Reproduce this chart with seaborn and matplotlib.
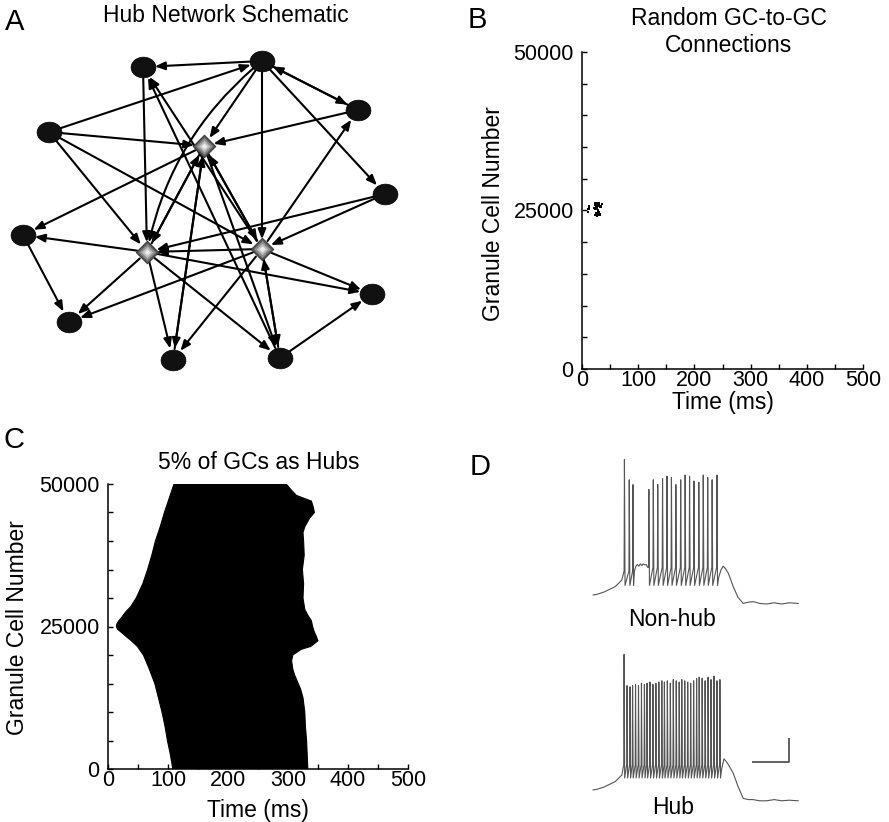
import numpy as np
import pandas as pd
import matplotlib
matplotlib.use("Agg")
import matplotlib.pyplot as plt
from matplotlib.path import Path
from matplotlib.transforms import Affine2D
from matplotlib.ticker import MultipleLocator
import seaborn as sns

sns.set_style("ticks")
plt.rcParams["font.family"] = ["Liberation Sans", "DejaVu Sans"]
plt.rcParams.update({"text.color": "black", "axes.labelcolor": "black",
                     "xtick.color": "black", "ytick.color": "black"})

W, H = 889, 822

# ---------------- Panel A: hub network schematic ----------------
cell_x = [143, 262, 358, 49, 385, 23, 372, 69, 173, 280]
cell_y = [67, 61, 110, 132, 194, 235, 294, 322, 360, 358]
hub_x = [204, 147, 262]
hub_y = [146, 252, 249]
# node ids: 0-9 ordinary granule cells, 10-12 hubs
edge_from = [1, 3, 1, 2, 1, 1, 1, 1, 0, 12, 9, 3, 3, 3, 2, 12, 4, 4,
             10, 11, 5, 11, 12, 9, 10, 12, 11, 11, 12, 10, 8, 9,
             12, 11, 10, 10, 12, 11, 12]
edge_to = [0, 1, 2, 1, 4, 10, 11, 12, 11, 0, 0, 10, 11, 12, 10, 2, 11, 12,
           5, 5, 7, 6, 6, 6, 8, 8, 8, 9, 9, 9, 10, 12,
           11, 10, 11, 12, 10, 7, 7]

# ---------------- Panel B: random GC-to-GC connections ----------------
rand_t = [11, 11.5, 12, 22, 23, 24, 25, 26, 27, 28, 29, 30, 24, 26, 28,
          23, 25, 27, 29, 31, 36, 33]
rand_gc = [24800, 25200, 25600, 25400, 25900, 26200, 25700, 26100, 25500,
           25900, 26200, 25800, 25200, 25300, 25100, 24300, 24600, 24200,
           24700, 24400, 26000, 25600]

# ---------------- Panel C: 5% hubs, edges of the activity envelope ----------------
onset_gc = [50000, 47500, 45000, 42500, 40000, 37500, 35000, 32500, 30000,
            28500, 27500, 26500, 26000, 25500, 25000, 24500, 24000, 23000,
            22500, 21500, 20000, 17500, 15000, 12500, 10000, 7500, 5000,
            2500, 0]
onset_t = [110, 102, 94, 87, 79, 73, 66, 58, 47, 38, 29, 22, 18, 15, 14,
           16, 22, 33, 39, 49, 59, 69, 78, 84, 90, 95, 99, 104, 108]
offset_gc = [0, 2500, 5000, 7500, 10000, 12500, 14000, 15000, 16500, 17500,
             19000, 20000, 21000, 21500, 22500, 23300, 24000, 25000, 26000,
             27000, 28000, 30000, 32500, 35000, 37500, 40000, 41500, 42500,
             44000, 45000, 46000, 47000, 48000, 49000, 50000]
offset_t = [333, 332, 331, 329, 328, 325, 321, 317, 311, 308, 306, 308,
            322, 338, 350, 347, 344, 341, 339, 333, 328, 325, 326, 324, 327,
            326, 325, 328, 336, 344, 342, 339, 314, 305, 297]

# ---------------- Panel D: membrane potential traces (ms, mV) ----------------
pre_t = [0, 10, 20, 30, 40, 50, 60, 70, 78]
pre_v = [-70, -69.5, -68.5, -67.5, -66, -64.5, -63, -60, -57.5]

nonhub_spk1_t = [85, 98, 108]
nonhub_spk1_v = [43, 26, 22]
nonhub_plateau_t = [112, 116, 120, 124, 128, 132, 136, 140, 144, 148]
nonhub_plateau_v = [-50, -46, -44.5, -46, -44, -45.5, -44, -45, -44.5, -47]
nonhub_spk2_t = [151, 163, 175, 188, 200, 212, 224, 237, 249, 261, 273,
                 286, 298, 310, 322, 335]
nonhub_spk2_v = [18, 26, 22, 27, 29, 28, 22, 26, 30, 29, 25, 24, 30, 28,
                 26, 30]
nonhub_post_t = [340, 346, 352, 358, 366, 379, 392, 406, 420, 433, 450,
                 469, 490, 510, 530, 555]
nonhub_post_v = [-55, -49, -46, -48, -52, -63, -72, -77, -76, -75.5, -77,
                 -77.5, -76.5, -77.5, -76.5, -77]

hub_spk_t = [84, 92, 100, 107, 115, 123, 131, 139, 146, 154, 162, 170, 178,
             186, 193, 201, 209, 217, 225, 233, 240, 248, 256, 264, 272, 280,
             287, 295, 303, 311, 319, 327, 335, 343]
hub_spk_v = [43, 17, 16, 17, 18, 17, 19, 18, 19, 20, 18, 19, 20, 21, 20, 21,
             19, 22, 21, 20, 22, 21, 20, 19, 21, 23, 24, 23, 21, 24, 22, 25,
             21, 22]
hub_post_t = [348, 354, 362, 370, 379, 392, 406, 420, 433, 450, 469, 490,
              510, 530, 555]
hub_post_v = [-52, -44, -47, -51, -56, -67, -77, -78, -78, -79, -79, -78,
              -79, -78.5, -79]

scalebar_t = [430, 530, 530]
scalebar_v = [-46.9, -46.9, -26.9]

TICK_FS = 15.5
LABEL_FS = 16.5
LETTER_FS = 21
TRACE_COLOR = "#555555"


def fig_box(x0, y0, x1, y1):
    return [x0 / W, 1 - y1 / H, (x1 - x0) / W, (y1 - y0) / H]


def fig_xy(x, y):
    return x / W, 1 - y / H


fig = plt.figure(figsize=(W / 100, H / 100), dpi=100)

# ---- A ----
ax_a = fig.add_axes(fig_box(0, 40, 445, 380))
ax_a.set_xlim(0, 445)
ax_a.set_ylim(380, 40)
ax_a.axis("off")

node_x = cell_x + hub_x
node_y = cell_y + hub_y
for s, d in zip(edge_from, edge_to):
    shrink_a = 7 if s >= 10 else 8
    shrink_b = 7 if d >= 10 else 8.5
    style = "arc3,rad=0.18" if (s, d) == (1, 11) else "arc3,rad=0"
    ax_a.annotate(
        "", xy=(node_x[d], node_y[d]), xytext=(node_x[s], node_y[s]),
        arrowprops=dict(arrowstyle="-|>,head_length=0.5,head_width=0.2",
                        color="black", lw=1.5, shrinkA=shrink_a,
                        shrinkB=shrink_b, mutation_scale=12,
                        connectionstyle=style),
        zorder=1)

ellipse_marker = Path.unit_circle().transformed(Affine2D().scale(1.2, 1.0))
sns.scatterplot(x=cell_x, y=cell_y, ax=ax_a, marker=ellipse_marker, s=320,
                color="#111111", edgecolor="black", linewidth=0.5,
                legend=False, zorder=3)
diamond = (4, 0, 0)
for size, col in [(260, "#5a5a5a"), (150, "#8c8c8c"), (70, "#bdbdbd"),
                  (20, "#ececec")]:
    sns.scatterplot(x=hub_x, y=hub_y, ax=ax_a, marker=diamond, s=size,
                    color=col, edgecolor="#3a3a3a" if size == 260 else col,
                    linewidth=0.8 if size == 260 else 0, legend=False,
                    zorder=4)


def style_raster(ax):
    ax.set_xlim(0, 500)
    ax.set_ylim(0, 50000)
    ax.xaxis.set_major_locator(MultipleLocator(100))
    ax.xaxis.set_minor_locator(MultipleLocator(50))
    ax.set_yticks([0, 25000, 50000])
    ax.yaxis.set_minor_locator(MultipleLocator(5000))
    ax.tick_params(which="both", direction="in", length=3.5, width=1,
                   labelsize=TICK_FS, colors="black")
    ax.tick_params(axis="x", which="both", pad=0.5)
    ax.tick_params(axis="y", which="both", pad=6)
    sns.despine(ax=ax)
    for sp in ("left", "bottom"):
        ax.spines[sp].set_linewidth(1.1)
        ax.spines[sp].set_color("black")
    ax.set_xlabel("Time (ms)", fontsize=LABEL_FS)
    ax.set_ylabel("Granule Cell Number", fontsize=LABEL_FS)
    ax.xaxis.label.set_va("center")
    ax.yaxis.label.set_va("center")


# ---- B ----
ax_b = fig.add_axes(fig_box(582, 52, 863, 369))
sns.scatterplot(x=rand_t, y=rand_gc, ax=ax_b, s=3, color="black",
                edgecolor="none", marker="s", legend=False)
style_raster(ax_b)
ax_b.xaxis.set_label_coords(0.5, -(403 - 369) / 317)
ax_b.yaxis.set_label_coords((493 - 582) / 281, 0.49)

# ---- C ----
ax_c = fig.add_axes(fig_box(108, 484, 408, 769))
envelope = pd.DataFrame({
    "t": onset_t + offset_t,
    "gc": onset_gc + offset_gc,
})
ax_c.fill(envelope["t"], envelope["gc"], color="black", lw=0.8,
          edgecolor="black")
style_raster(ax_c)
ax_c.xaxis.set_label_coords(0.5, -(810 - 769) / 285)
ax_c.yaxis.set_label_coords((18 - 108) / 300, 0.495)


# ---- D ----
def spike_vertices(times, peaks, thr, trough):
    ts, vs = [], []
    for t, p in zip(times, peaks):
        ts += [t - 0.9, t, t + 1.6]
        vs += [thr, p, trough]
    return ts, vs


s1_t, s1_v = spike_vertices(nonhub_spk1_t, nonhub_spk1_v, -50, -62)
s2_t, s2_v = spike_vertices(nonhub_spk2_t, nonhub_spk2_v, -47, -62)
nonhub = pd.DataFrame({
    "t": pre_t + s1_t + nonhub_plateau_t + s2_t + nonhub_post_t,
    "v": pre_v + s1_v + nonhub_plateau_v + s2_v + nonhub_post_v,
})
h_t, h_v = spike_vertices(hub_spk_t, hub_spk_v, -49, -60)
hub = pd.DataFrame({
    "t": pre_t + h_t + hub_post_t,
    "v": pre_v + h_v + hub_post_v,
})

ax_d1 = fig.add_axes(fig_box(580, 440, 889, 640))
sns.lineplot(data=nonhub, x="t", y="v", ax=ax_d1, color=TRACE_COLOR,
             lw=0.8, sort=False, estimator=None)
ax_d1.set_xlim(-35.1, 800)
ax_d1.set_ylim(-107.5, 59.17)
ax_d1.axis("off")

ax_d2 = fig.add_axes(fig_box(580, 640, 889, 822))
sns.lineplot(data=hub, x="t", y="v", ax=ax_d2, color=TRACE_COLOR,
             lw=0.8, sort=False, estimator=None)
ax_d2.plot(scalebar_t, scalebar_v, color="#555555", lw=1.3,
           solid_capstyle="butt")
ax_d2.set_xlim(-35.1, 800)
ax_d2.set_ylim(-96.67, 55)
ax_d2.axis("off")

# ---- titles and labels ----
fig.text(*fig_xy(226, 16), "Hub Network Schematic", ha="center",
         va="center", fontsize=LABEL_FS)
fig.text(*fig_xy(729, 32), "Random GC-to-GC\nConnections", ha="center",
         va="center", fontsize=LABEL_FS, linespacing=1.2)
fig.text(*fig_xy(259, 462), "5% of GCs as Hubs", ha="center", va="center",
         fontsize=LABEL_FS)
fig.text(*fig_xy(672, 620), "Non-hub", ha="center", va="center",
         fontsize=LABEL_FS)
fig.text(*fig_xy(673, 807), "Hub", ha="center", va="center",
         fontsize=LABEL_FS)

for letter, (lx, ly) in {"A": (15, 22), "B": (477, 20), "C": (14, 440),
                         "D": (480, 467)}.items():
    fig.text(*fig_xy(lx, ly), letter, ha="center", va="center",
             fontsize=LETTER_FS)

fig.savefig("out.png", dpi=100, facecolor="white")
